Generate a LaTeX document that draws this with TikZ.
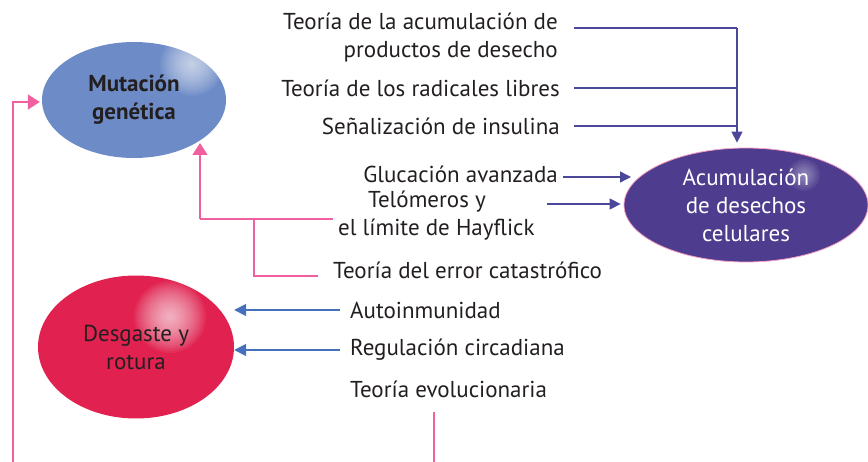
\documentclass[tikz,border=0pt]{standalone}
\usepackage{fontspec}
\setmainfont{PT Sans}
\usetikzlibrary{arrows.meta,calc,shapes.geometric}

\definecolor{mutblue}{HTML}{6C8BC7}
\definecolor{wearred}{HTML}{E1214F}
\definecolor{wastepurple}{HTML}{4E3C8E}
\definecolor{linepurple}{HTML}{4B4799}
\definecolor{linepink}{HTML}{F0609F}
\definecolor{lineblue}{HTML}{4470BC}
\definecolor{textgrey}{HTML}{231F20}

\newcommand{\glint}[2]{% soft white highlight, offset #1, radius #2
  \foreach \r in {2,4,...,#2}
    \fill[white, opacity=0.06] ($(path picture bounding box.center)+#1$) circle (\r pt);}

\tikzset{
  theory/.style={font=\fontsize{23}{28}\selectfont, text=textgrey, inner sep=0pt},
  bubble/.style={ellipse, inner sep=0pt, font=\fontsize{23}{28}\selectfont, align=center},
  purpleline/.style={draw=linepurple, line width=1.4pt},
  purplearrow/.style={purpleline, -{Triangle[length=11pt,width=11pt]}},
  pinkline/.style={draw=linepink, line width=1.6pt},
  pinkarrow/.style={pinkline, -{Triangle[length=12pt,width=15pt]}},
  bluearrow/.style={draw=lineblue, line width=1.6pt, -{Triangle[length=12pt,width=12pt]}}
}

\begin{document}
\begin{tikzpicture}[x=1pt,y=-1pt]
  \useasboundingbox (0,0) rectangle (868,462);

  % the three ellipses
  \node[bubble, fill=mutblue, minimum width=184, minimum height=116, text=textgrey,
        path picture={\glint{(58pt,36pt)}{32}}]
        (mut) at (134,100) {\bfseries Mutación\\\bfseries genética};
  \node[bubble, fill=wearred, minimum width=196, minimum height=143, text=textgrey,
        path picture={\glint{(34pt,30pt)}{36}}]
        (wear) at (136,347) {Desgaste y\\rotura};
  \node[bubble, fill=wastepurple, draw=linepink!60, line width=0.8pt, minimum width=244,
        minimum height=114, text=white,
        path picture={\glint{(58pt,30pt)}{16}}]
        (waste) at (746,205) {Acumulación\\de desechos\\celulares};

  % theories
  \node[theory, align=right, anchor=east] (acum) at (558,38) {Teoría de la acumulación de\\productos de desecho};
  \node[theory, anchor=east] (radic) at (560,88) {Teoría de los radicales libres};
  \node[theory, anchor=east] (insul) at (560,126) {Señalización de insulina};
  \node[theory, anchor=east] (gluc) at (558,174) {Glucación avanzada};
  \node[theory, align=left, anchor=west] (telo) at (338,216) {\hspace*{30pt}Telómeros y\\el límite de Hayflick};
  \node[theory, anchor=west] (error) at (333,270) {Teoría del error catastrófico};
  \node[theory, anchor=west] (auto) at (350,310) {Autoinmunidad};
  \node[theory, anchor=west] (circ) at (350,350) {Regulación circadiana};
  \node[theory, anchor=west] (evol) at (350,389) {Teoría evolucionaria};

  % joints
  \coordinate (bus) at (737,28);
  \coordinate (mjoin) at (200,219);
  \coordinate (ejoin) at (254,219);
  \coordinate (mtip) at (200,143);
  \coordinate (lbot) at (13,462);
  \coordinate (ebot) at (434,462);

  % purple connectors
  \draw[purpleline] ([xshift=16pt]acum.east |- bus) -- (bus);
  \draw[purplearrow] (bus) -- ([yshift=5pt]bus |- waste.north);
  \draw[purpleline] ([xshift=14pt]radic.east) -- (radic.east -| bus);
  \draw[purpleline] ([xshift=14pt]insul.east) -- (insul.east -| bus);
  \draw[purplearrow] ([xshift=5pt,yshift=-3pt]gluc.east) -- ([xshift=73pt,yshift=-3pt]gluc.east);
  \draw[purplearrow] ([xshift=12pt,yshift=12pt]telo.east) -- ([xshift=-3pt,yshift=1pt]waste.west);

  % pink connectors
  \draw[pinkline] ([xshift=-15pt,yshift=-6pt]error.west) -| (ejoin);
  \draw[pinkline] ([xshift=-5pt]telo.west |- mjoin) -- (mjoin);
  \draw[pinkarrow] (mjoin) -- (mtip);
  \draw[pinkarrow] (lbot) |- ([xshift=-2pt,yshift=-2pt]mut.west);
  \draw[pinkline] ([yshift=-14pt]evol.south -| ebot) -- (ebot);

  % blue connectors
  \draw[bluearrow] ([xshift=-10pt]auto.west) -- (auto.west -| wear.east);
  \draw[bluearrow] ([xshift=-10pt]circ.west) -- (circ.west -| wear.east);
\end{tikzpicture}
\end{document}
